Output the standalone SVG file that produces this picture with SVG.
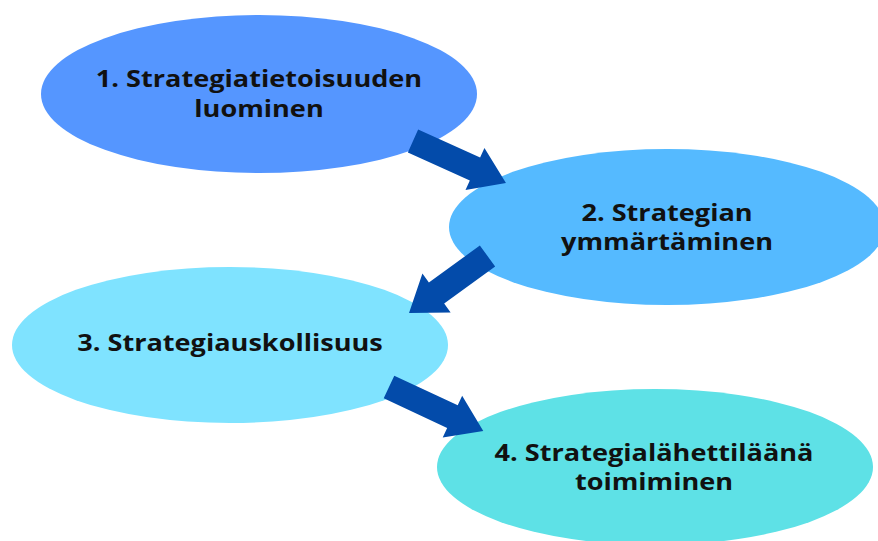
<svg xmlns="http://www.w3.org/2000/svg" width="878" height="541" viewBox="0 0 878 541">
  <defs>
    <style>
      .lbl { font-family: "Open Sans", "Liberation Sans", sans-serif; font-weight: bold; font-size: 24px; fill: #111111; text-anchor: middle; }
      .arrow { fill: #034BAA; }
    </style>
  </defs>
  <rect width="878" height="541" fill="#ffffff"/>
  <g id="node1">
    <ellipse cx="259" cy="94" rx="218" ry="79" fill="#5596FF"/>
    <g transform="translate(259,0) scale(1.13,1)">
      <text class="lbl" x="0" y="87">1. Strategiatietoisuuden</text>
      <text class="lbl" x="0" y="117">luominen</text>
    </g>
  </g>
  <g id="node2">
    <ellipse cx="667" cy="227" rx="218" ry="78" fill="#55BAFF"/>
    <g transform="translate(667,0) scale(1.13,1)">
      <text class="lbl" x="0" y="221">2. Strategian</text>
      <text class="lbl" x="0" y="250">ymmärtäminen</text>
    </g>
  </g>
  <g id="node3">
    <ellipse cx="230" cy="345" rx="218" ry="78" fill="#7FE3FF"/>
    <g transform="translate(230,0) scale(1.13,1)">
      <text class="lbl" x="0" y="351">3. Strategiauskollisuus</text>
    </g>
  </g>
  <g id="node4">
    <ellipse cx="655" cy="467" rx="218" ry="78" fill="#5EE1E6"/>
    <g transform="translate(654,0) scale(1.13,1)">
      <text class="lbl" x="0" y="461">4. Strategialähettiläänä</text>
      <text class="lbl" x="0" y="490">toimiminen</text>
    </g>
  </g>
  <g id="connectors">
    <polygon class="arrow" transform="translate(413,141) rotate(24.3)" points="0,-12.5 68,-12.5 68,-23 102,0 68,23 68,12.5 0,12.5"/>
    <polygon class="arrow" transform="translate(487.5,256) rotate(144)" points="0,-13 63,-13 63,-24 97,0 63,24 63,13 0,13"/>
    <polygon class="arrow" transform="translate(389,387) rotate(25)" points="0,-12.5 70,-12.5 70,-23 104,0 70,23 70,12.5 0,12.5"/>
  </g>
</svg>
